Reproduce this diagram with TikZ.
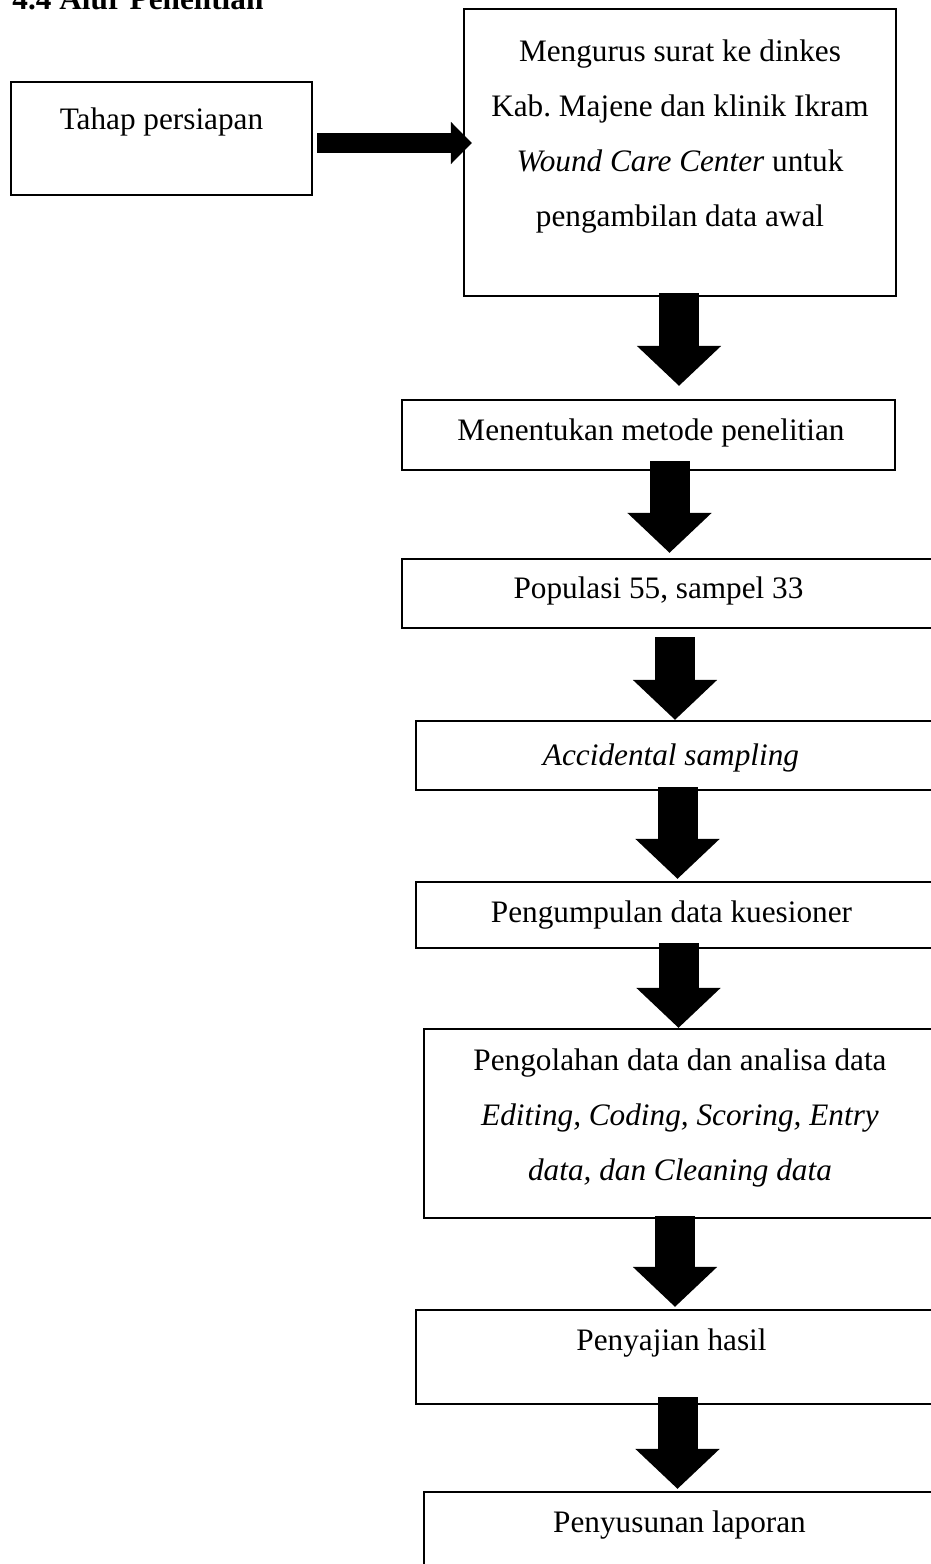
\documentclass[tikz,border=0pt]{standalone}
\usepackage{fontspec}
\setmainfont{Liberation Serif}
\usetikzlibrary{arrows.meta}
\tikzset{
  box/.style={draw, line width=0.9pt, inner sep=0pt},
  txt/.style={font=\fontsize{12.5}{22}\selectfont, inner sep=0pt, anchor=base, align=center},
  bigdown/.style={line width=16pt, -{Triangle[width=32.8pt, length=16pt]}},
  bigright/.style={line width=8pt, -{Triangle[width=16.4pt, length=8.4pt]}}
}
\begin{document}
\begin{tikzpicture}[x=0.4pt, y=-0.4pt]
      \useasboundingbox (0,0) rectangle (931,1564);
      \node[txt, anchor=base west, font=\fontsize{12.5}{15}\selectfont\bfseries] (title) at (12,10) {4.4 Alur Penelitian};
      % kotak
      \node[box, minimum width=120.4pt, minimum height=45.2pt] (tahap) at (161.5,138.5) {};
      \node[box, minimum width=172.8pt, minimum height=114.8pt] (mng) at (680,152.5) {};
      \node[box, minimum width=197.2pt, minimum height=28pt] (mnt) at (648.5,435) {};
      \node[box, minimum width=217.2pt, minimum height=27.6pt] (pop) at (673.5,593.5) {};
      \node[box, minimum width=211.6pt, minimum height=27.6pt] (acc) at (680.5,755.5) {};
      \node[box, minimum width=211.6pt, minimum height=26.4pt] (kue) at (680.5,915) {};
      \node[box, minimum width=208.4pt, minimum height=75.6pt] (olah) at (684.5,1123.5) {};
      \node[box, minimum width=211.6pt, minimum height=37.6pt] (saji) at (680.5,1357) {};
      \node[box, minimum width=208.4pt, minimum height=43.2pt] (lap) at (684.5,1546) {};
      % teks (multi-baris: base = baris terakhir)
      \node[txt] (tahap-t) at (161.5,130) {Tahap persiapan};
      \node[txt] (mng-t) at (680,227) {Mengurus surat ke dinkes\\Kab.\ Majene dan klinik Ikram\\\textit{Wound Care Center} untuk\\pengambilan data awal};
      \node[txt] (mnt-t) at (651,440) {Menentukan metode penelitian};
      \node[txt] (pop-t) at (658.5,598) {Populasi 55, sampel 33};
      \node[txt] (acc-t) at (671,765) {\textit{Accidental sampling}};
      \node[txt] (kue-t) at (671.5,922) {Pengumpulan data kuesioner};
      \node[txt] (olah-t) at (680,1180) {Pengolahan data dan analisa data\\\textit{Editing, Coding, Scoring, Entry}\\\textit{data, dan Cleaning data}};
      \node[txt] (saji-t) at (671.5,1350) {Penyajian hasil};
      \node[txt] (lap-t) at (679.5,1532) {Penyusunan laporan};
      % panah
      \begin{scope}
        \draw[bigright, shorten <=1.6pt, shorten >=-3.6pt] (tahap.east |- 0,143) to (mng.west |- 0,143);
        \draw[bigdown, shorten <=-1.6pt, shorten >=5.2pt] (679,0 |- mng.south) to (679,0 |- mnt.north);
        \draw[bigdown, shorten <=-4pt, shorten >=2pt] (669.5,0 |- mnt.south) to (669.5,0 |- pop.north);
        \draw[bigdown, shorten <=3.2pt] (675,0 |- pop.south) to (675,0 |- acc.north);
        \draw[bigdown, shorten <=-1.6pt, shorten >=0.8pt] (677.5,0 |- acc.south) to (677.5,0 |- kue.north);
        \draw[bigdown, shorten <=-2.4pt] (678.5,0 |- kue.south) to (678.5,0 |- olah.north);
        \draw[bigdown, shorten <=-1.2pt, shorten >=0.8pt] (675,0 |- olah.south) to (675,0 |- saji.north);
        \draw[bigdown, shorten <=-3.2pt, shorten >=0.8pt] (677.5,0 |- saji.south) to (677.5,0 |- lap.north);
      \end{scope}
\end{tikzpicture}
\end{document}
